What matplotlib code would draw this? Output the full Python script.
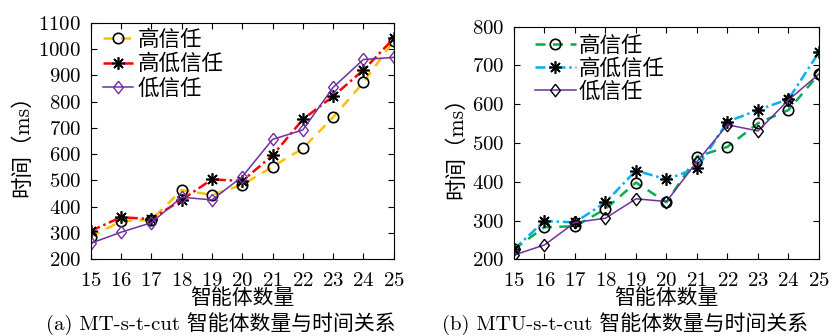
import matplotlib
matplotlib.use('Agg')
import matplotlib.pyplot as plt

plt.rcParams['font.family'] = ['cmr10', 'Noto Sans CJK SC', 'DejaVu Sans']
plt.rcParams['axes.formatter.use_mathtext'] = True
plt.rcParams['mathtext.fontset'] = 'cm'

# ---------- 数据 ----------
agents = [15, 16, 17, 18, 19, 20, 21, 22, 23, 24, 25]
labels = ['高信任', '高低信任', '低信任']

# (a) MT-s-t-cut
a_high = [285, 345, 350, 463, 445, 483, 552, 622, 740, 873, 1031]
a_mix = [308, 360, 353, 426, 504, 498, 595, 732, 820, 920, 1040]
a_low = [261, 303, 339, 436, 426, 514, 656, 692, 854, 960, 968]

# (b) MTU-s-t-cut
b_high = [226, 283, 285, 330, 398, 347, 465, 490, 551, 585, 678]
b_mix = [226, 299, 295, 347, 429, 406, 435, 555, 585, 613, 734]
b_low = [211, 237, 295, 306, 356, 349, 452, 547, 531, 611, 678]

fig = plt.figure(figsize=(8.34, 3.36), dpi=100)
ax1 = fig.add_axes([0.1088, 0.2283, 0.3633, 0.7042])
ax2 = fig.add_axes([0.6163, 0.2283, 0.3657, 0.6923])

star = (8, 2, 0)
diamond = [(0, 1), (0.78, 0), (0, -1), (-0.78, 0), (0, 1)]

# 左图
ax1.plot(agents, a_high, color='#FFC000', ls=(0, (4, 3)), lw=1.8,
         marker='o', ms=7.5, mfc='none', mec='black', mew=1.2, label=labels[0])
ax1.plot(agents, a_mix, color='#FF0000', ls=(0, (4, 1.5, 1, 1.5)), lw=1.8,
         marker=star, ms=9, mec='black', mew=1.2, label=labels[1])
ax1.plot(agents, a_low, color='#7030A0', ls='-', lw=1.1,
         marker=diamond, ms=9, mfc='none', mec='#7030A0', mew=1.0, label=labels[2])
ax1.set_ylim(200, 1100)
ax1.set_yticks(range(200, 1101, 100))

# 右图
ax2.plot(agents, b_high, color='#00B050', ls=(0, (4, 3)), lw=1.8,
         marker='o', ms=7.5, mfc='none', mec='black', mew=1.2, label=labels[0])
ax2.plot(agents, b_mix, color='#00B0F0', ls=(0, (4, 1.5, 1, 1.5)), lw=1.8,
         marker=star, ms=9, mec='black', mew=1.2, label=labels[1])
ax2.plot(agents, b_low, color='#7030A0', ls='-', lw=1.1,
         marker=diamond, ms=9, mfc='none', mec='black', mew=1.0, label=labels[2])
ax2.set_ylim(200, 800)
ax2.set_yticks(range(200, 801, 100))

for ax in (ax1, ax2):
    ax.set_xlim(15, 25)
    ax.set_xticks(agents)
    ax.tick_params(direction='in', top=True, right=True, length=4,
                   width=0.8, labelsize=15)
    ax.tick_params(axis='x', pad=9)
    ax.tick_params(axis='y', pad=7)
    for s in ax.spines.values():
        s.set_linewidth(0.8)
    ax.set_xlabel('智能体数量', fontsize=15, labelpad=-1)
    ax.set_ylabel('时间（ms）', fontsize=15.5, labelpad=4)

ax1.legend(loc='upper left', frameon=False, fontsize=15.5,
           handlelength=1.4, handletextpad=0.2, labelspacing=0.2,
           borderaxespad=0.2, borderpad=0.1, bbox_to_anchor=(0.02, 1.0))
ax2.legend(loc='upper left', frameon=False, fontsize=15.5,
           handlelength=1.9, handletextpad=0.15, labelspacing=0.12,
           borderaxespad=0.2, borderpad=0.2, bbox_to_anchor=(0.04, 1.0))

fig.text(0.265, 0.038, '(a) MT-s-t-cut 智能体数量与时间关系', ha='center',
         va='center', fontsize=15)
fig.text(0.75, 0.038, '(b) MTU-s-t-cut 智能体数量与时间关系', ha='center',
         va='center', fontsize=15)

fig.savefig('out.png', dpi=100)
